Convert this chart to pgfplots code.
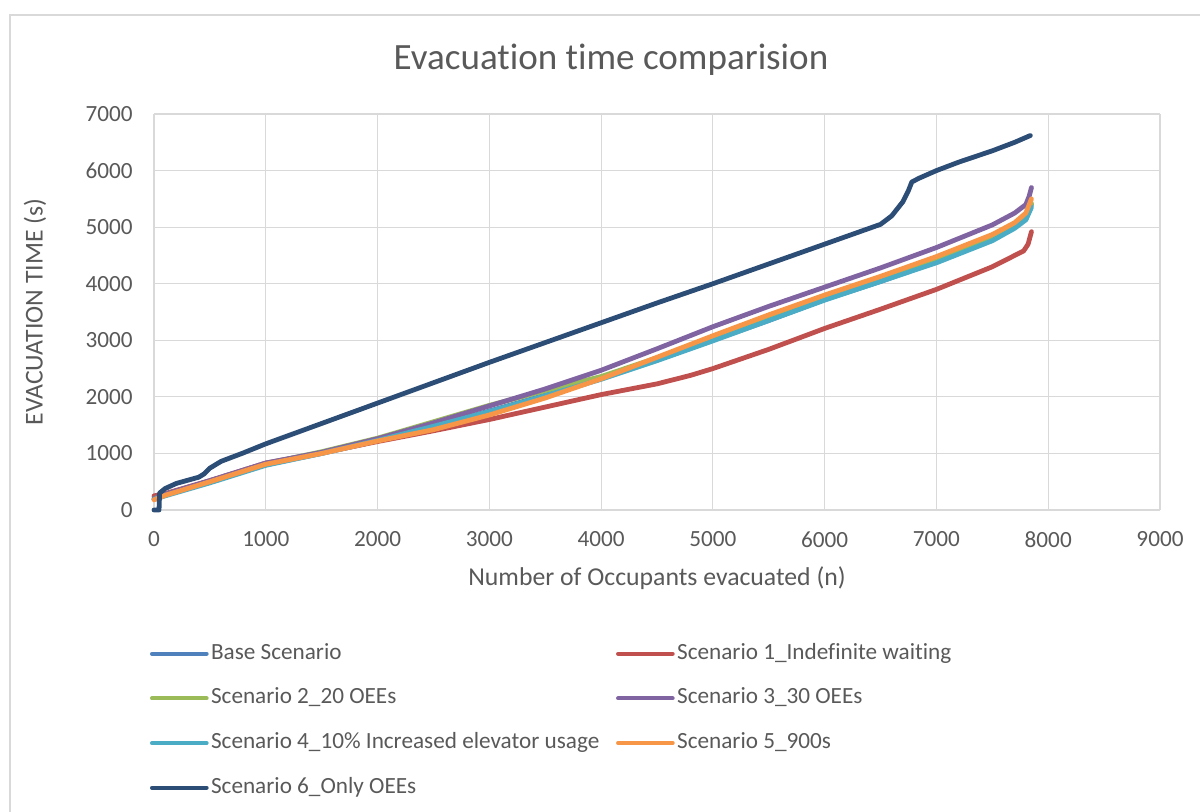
\documentclass[border=0pt]{standalone}
\usepackage{pgfplots}
\pgfplotsset{compat=1.18}
\usepackage{fontspec}
\setmainfont{Carlito}[Ligatures=NoCommon]

\definecolor{txt}{HTML}{595959}
\definecolor{gridc}{HTML}{D9D9D9}
\definecolor{framec}{HTML}{D9D9D9}
\definecolor{cBase}{HTML}{4F81BD}
\definecolor{cOne}{HTML}{C0504D}
\definecolor{cTwo}{HTML}{9BBB59}
\definecolor{cThree}{HTML}{8064A2}
\definecolor{cFour}{HTML}{4BACC6}
\definecolor{cFive}{HTML}{F79646}
\definecolor{cSix}{HTML}{2C4D75}

\newcommand{\tickfont}{\fontsize{17.4}{20}\selectfont}
\newcommand{\labfont}{\fontsize{19.3}{22}\selectfont}
\newcommand{\colA}[1]{\makebox[303.75pt][l]{#1}}

\begin{document}
\begin{tikzpicture}
\useasboundingbox (0pt,0pt) rectangle (900pt,-608.25pt);
% chart frame
\draw[framec, line width=0.9pt] (7.5pt,-700pt) -- (7.5pt,-11.25pt) -- (1000pt,-11.25pt);

\node[font=\fontsize{27.8}{33}\selectfont, text=txt] at (458.25pt,-45pt) {Evacuation time comparision};
\node[font=\labfont, text=txt, rotate=90] at (26.25pt,-234pt) {EVACUATION TIME (s)};
\node[font=\labfont, text=txt] at (492.75pt,-433.5pt) {Number of Occupants evacuated (n)};

\begin{axis}[
  at={(115.5pt,-382.5pt)}, anchor=south west,
  scale only axis, width=754.5pt, height=297pt,
  xmin=0, xmax=9000, ymin=0, ymax=7000,
  xtick={0,1000,...,9000}, ytick={0,1000,...,7000},
  grid=major, grid style={draw=gridc, line width=0.9pt},
  axis x line*=bottom, axis y line*=left,
  axis line style={-, draw=gridc, line width=0.9pt},
  major tick length=0pt, tick style={draw=none},
  ticklabel style={font=\tickfont, text=txt, inner sep=0pt},
  xticklabel style={anchor=north, yshift=-16pt},
  yticklabel style={anchor=east, xshift=-15.75pt},
  /pgf/number format/assume math mode=true,
  /pgf/number format/set thousands separator={},
  every axis plot/.append style={line width=3.6pt, line join=round, line cap=round, no markers},
  clip=false,
  legend columns=2,
  legend style={at={(axis description cs:-0.004,-0.336)}, anchor=north west,
    draw=none, fill=none, inner sep=0pt, outer sep=0pt,
    column sep=0pt, row sep=17.5pt,
    nodes={inner sep=0pt, text height=12pt, text depth=4pt, font=\tickfont, text=txt, anchor=west}},
  legend cell align=left,
  legend image code/.code={\draw[#1, line width=3pt, line cap=round] (0pt,0pt) -- (41pt,0pt); \path (42.5pt,0pt);},
]
% Base Scenario
\addplot[cBase] coordinates {
(0,200) (50,230) (100,270) (500,500) (1000,800) (1500,1000) (2000,1220)
(2500,1470) (3000,1750) (3500,2030) (4000,2330) (4500,2650) (5000,3000)
(5500,3350) (6000,3720) (6500,4040) (7000,4390) (7500,4780) (7700,5000)
(7800,5150) (7850,5400)};
\addlegendentry{\colA{Base Scenario}}
% Scenario 1
\addplot[cOne] coordinates {
(0,250) (100,290) (500,520) (1000,830) (1500,1010) (2000,1210) (2500,1400)
(3000,1600) (3500,1820) (4000,2040) (4500,2230) (4800,2380) (5000,2500)
(5500,2840) (6000,3210) (6500,3550) (7000,3900) (7500,4300) (7700,4500)
(7780,4580) (7820,4700) (7850,4920)};
\addlegendentry{Scenario 1\_Indefinite waiting}
% Scenario 2
\addplot[cTwo] coordinates {
(0,200) (100,270) (500,510) (1000,820) (1500,1030) (2000,1270) (2500,1560)
(3000,1850) (3500,2110) (4000,2360) (4500,2690) (5000,3030) (5500,3380)
(6000,3740) (6500,4060) (7000,4410) (7500,4800) (7700,5020) (7800,5170)
(7850,5420)};
\addlegendentry{\colA{Scenario 2\_20 OEEs}}
% Scenario 3
\addplot[cThree] coordinates {
(0,200) (100,280) (500,520) (1000,830) (1500,1020) (2000,1260) (2500,1540)
(3000,1840) (3500,2140) (4000,2470) (4500,2850) (5000,3240) (5500,3600)
(6000,3940) (6500,4280) (7000,4640) (7500,5040) (7700,5250) (7800,5400)
(7830,5550) (7850,5700)};
\addlegendentry{Scenario 3\_30 OEEs}
% Scenario 4
\addplot[cFour] coordinates {
(0,190) (100,250) (500,480) (1000,790) (1500,1000) (2000,1230) (2500,1480)
(3000,1740) (3500,2020) (4000,2310) (4500,2640) (5000,2990) (5500,3350)
(6000,3710) (6500,4040) (7000,4370) (7500,4760) (7700,4980) (7800,5130)
(7850,5350)};
\addlegendentry{\colA{Scenario 4\_10\% Increased elevator usage}}
% Scenario 5
\addplot[cFive] coordinates {
(0,180) (100,260) (500,500) (1000,810) (1500,1000) (2000,1220) (2500,1420)
(3000,1680) (3500,1980) (4000,2320) (4500,2700) (5000,3080) (5500,3450)
(6000,3800) (6500,4130) (7000,4480) (7500,4870) (7700,5080) (7800,5250)
(7850,5500)};
\addlegendentry{Scenario 5\_900s}
% Scenario 6
\addplot[cSix] coordinates {
(0,0) (45,0) (50,300) (100,380) (200,470) (400,580) (450,640) (500,740)
(550,800) (600,860) (800,1010) (1000,1170) (1500,1530) (2000,1890)
(2500,2250) (3000,2610) (3500,2960) (4000,3310) (4500,3660) (5000,4000)
(5500,4350) (6000,4700) (6400,4980) (6500,5050) (6600,5200) (6700,5450)
(6750,5650) (6780,5800) (6850,5870) (7000,6000) (7200,6150) (7500,6350)
(7700,6500) (7840,6620)};
\addlegendentry{\colA{Scenario 6\_Only OEEs}}
\end{axis}
\end{tikzpicture}
\end{document}
